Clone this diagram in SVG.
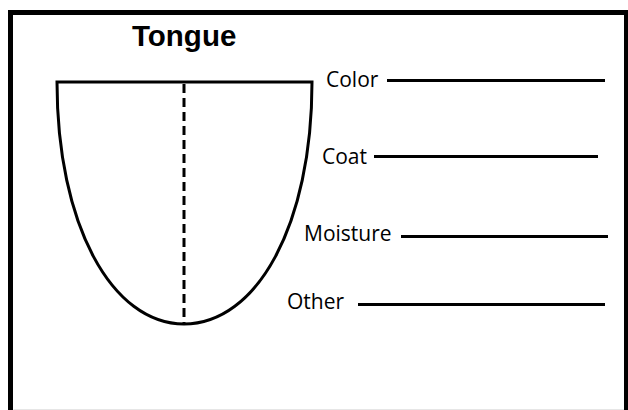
<svg xmlns="http://www.w3.org/2000/svg" width="628" height="410" viewBox="0 0 628 410">
<style>
.lbl{font-family:"Open Sans","Noto Sans",sans-serif;font-size:21px;fill:#000}
.title{font-family:"Liberation Sans",Arial,sans-serif;font-size:29.5px;font-weight:bold;fill:#000}
.ln{stroke:#000;stroke-width:3;fill:none}
</style>
<rect x="0" y="0" width="628" height="410" fill="#fff"/>
<g id="frame">
<line x1="13.5" y1="409.5" x2="628" y2="409.5" stroke="#e6e6e6" stroke-width="1"/>
<line x1="624.5" y1="15" x2="624.5" y2="409" stroke="#e6e6e6" stroke-width="1"/>
<path d="M10.5 410 V12.5 H626.5 V410" fill="none" stroke="#000" stroke-width="5"/>
</g>
<g id="title"><text class="title" x="132" y="46">Tongue</text></g>
<g id="tongue">
<path class="ln" d="M57 82 H312 C312 225 257 324 184 324 C112 324 57 225 57 82 Z"/>
<line x1="184" y1="84" x2="184" y2="324" stroke="#000" stroke-width="3" stroke-dasharray="9,5"/>
</g>
<g id="label-color"><text class="lbl" x="326" y="87">Color</text></g>
<g id="label-coat"><text class="lbl" x="322" y="164">Coat</text></g>
<g id="label-moisture"><text class="lbl" x="304" y="241">Moisture</text></g>
<g id="label-other"><text class="lbl" x="287" y="309">Other</text></g>
<g id="connectors">
<line class="ln" x1="387" y1="80.5" x2="605" y2="80.5"/>
<line class="ln" x1="374" y1="156.5" x2="598" y2="156.5"/>
<line class="ln" x1="401" y1="236.5" x2="608" y2="236.5"/>
<line class="ln" x1="358" y1="304.5" x2="605" y2="304.5"/>
</g>
</svg>
